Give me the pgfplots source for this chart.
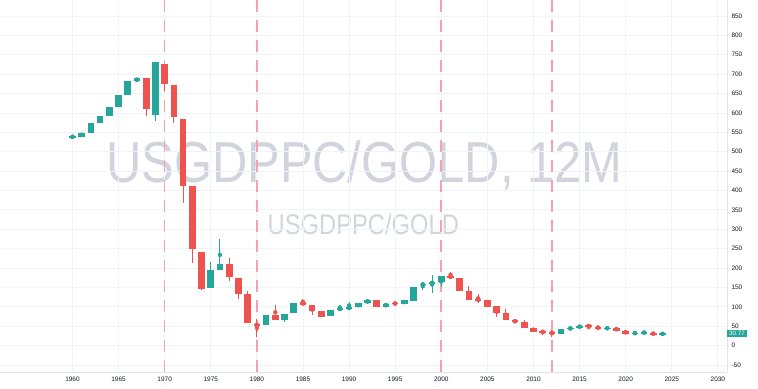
\documentclass[border=0pt]{standalone}
\usepackage{pgfplots}
\pgfplotsset{compat=1.18}
\usepackage{pgfplotstable}
\usepackage{fontspec}
\setmainfont{Liberation Sans}
\definecolor{up}{HTML}{26A69A}
\definecolor{down}{HTML}{EF5350}
\definecolor{vline}{HTML}{F2A3AB}
\definecolor{gridc}{HTML}{F0F3FA}
\definecolor{borderc}{HTML}{E0E3EB}
\definecolor{wm}{HTML}{D1D4DC}
\definecolor{txt}{HTML}{131722}

\pgfplotstableread{
x o h l c
1960 537 540 537 540
1961 538 549 538 549
1962 548 574 548 574
1963 574 592 574 592
1964 592 616 592 616
1965 616 646 616 646
1966 646 681 646 681
1967 681 690 681 690
1969 594 730 580 730
1975 148 216 148 194
1976 194 274 194 210
1981 54 78 54 78
1983 66 82 60 82
1984 84 110 84 110
1988 77 92 77 92
1989 92 105 92 97
1990 95 112 95 99
1991 99 110 99 110
1992 110 118 110 118
1994 101 108 101 108
1996 108 117 108 117
1997 115 150 115 150
1998 157 164 143 160
1999 160 181 135 164
2000 164 180 151 180
2013 30 43 30 43
2014 43 47 42 46
2015 46 52 46 52
2018 44 47 43 46
2021 32 34 31 33
2022 33 37 31 34
2024 30 31 30 30.77
}\upT

\pgfplotstableread{
x o h l c
1968 690 690 592 611
1970 726 726 657 674
1971 671 671 573 589
1972 583 583 369 412
1973 412 412 214 249
1974 242 242 144 147
1977 210 225 168 177
1978 174 174 121 134
1979 134 142 59 59
1980 56 70 22 52
1982 80 106 66 66
1985 112 121 105 105
1986 106 106 80 89
1987 89 89 75 75
1993 118 118 101 101
1995 110 110 107 108
2001 179 190 175 175
2002 174 174 140 140
2003 141 153 119 119
2004 119 134 110 117
2005 117 117 101 101
2006 102 102 73 84
2007 85 95 65 65
2008 65 65 61 61
2009 61 67 46 46
2010 46 46 36 36
2011 37 41 28 35
2012 34 41 23 32
2016 53 53 44 49
2017 49 49 44 44
2019 46 46 39 39
2020 39 39 30 30
2023 33 33 29 29
}\downT

\begin{document}
\begin{tikzpicture}
\useasboundingbox (0,0) rectangle (758bp,389bp);
% watermark
\node[anchor=base west, inner sep=0, text=wm] at (106bp,206.5bp)
  {\scalebox{0.846}[1]{\fontsize{58}{58}\selectfont USGDPPC/GOLD, 12M}};
\node[anchor=base west, inner sep=0, text=wm] at (267.5bp,154bp)
  {\scalebox{0.836}[1]{\fontsize{28.5}{28.5}\selectfont USGDPPC/GOLD}};
\begin{axis}[
  at={(0,17bp)}, anchor=south west,
  scale only axis, width=727bp, height=372bp,
  xmin=1952.14, xmax=2030.99, ymin=-67.8, ymax=891,
  axis x line*=bottom, axis y line*=right,
  axis line style={borderc, line width=0.8bp},
  xtick={1960,1965,...,2030}, ytick={-50,0,...,850},
  major tick length=0,
  grid=major, grid style={gridc, line width=0.8bp},
  xticklabel style={font=\fontsize{6.5}{7}\selectfont, text=txt, yshift=-1bp},
  yticklabel style={font=\fontsize{6.5}{7}\selectfont, text=txt, anchor=west, xshift=1bp},
  /pgf/number format/assume math mode=true,
  /pgf/number format/1000 sep={},
  clip=false,
]
\addplot[vline, line width=1.6bp, dash pattern=on 12bp off 8bp] coordinates {(1970,891) (1970,-67.8)};
\addplot[vline, line width=1.6bp, dash pattern=on 12bp off 8bp] coordinates {(1980,891) (1980,-67.8)};
\addplot[vline, line width=1.6bp, dash pattern=on 12bp off 8bp] coordinates {(2000,891) (2000,-67.8)};
\addplot[vline, line width=1.6bp, dash pattern=on 12bp off 8bp] coordinates {(2012,891) (2012,-67.8)};
% wicks
\addplot[up, only marks, mark=none, error bars/.cd, y dir=both, y explicit, error mark=none,
  error bar style={up, line width=1bp}]
  table[x=x, y expr={(\thisrow{h}+\thisrow{l})/2}, y error expr={(\thisrow{h}-\thisrow{l})/2}] {\upT};
\addplot[down, only marks, mark=none, error bars/.cd, y dir=both, y explicit, error mark=none,
  error bar style={down, line width=1bp}]
  table[x=x, y expr={(\thisrow{h}+\thisrow{l})/2}, y error expr={(\thisrow{h}-\thisrow{l})/2}] {\downT};
% bodies
\addplot[up, only marks, mark=none, error bars/.cd, y dir=both, y explicit, error mark=none,
  error bar style={up, line width=6.6bp}]
  table[x=x, y expr={(\thisrow{o}+\thisrow{c})/2}, y error expr={max(abs(\thisrow{c}-\thisrow{o})/2,1.3)}] {\upT};
\addplot[down, only marks, mark=none, error bars/.cd, y dir=both, y explicit, error mark=none,
  error bar style={down, line width=6.6bp}]
  table[x=x, y expr={(\thisrow{o}+\thisrow{c})/2}, y error expr={max(abs(\thisrow{c}-\thisrow{o})/2,1.3)}] {\downT};
\node[fill=up, text=white, font=\fontsize{6.3}{7}\selectfont, inner xsep=2bp, inner ysep=1.2bp, anchor=west]
  at (axis cs:2030.99,30.77) {30.77};
\end{axis}
\end{tikzpicture}
\end{document}
